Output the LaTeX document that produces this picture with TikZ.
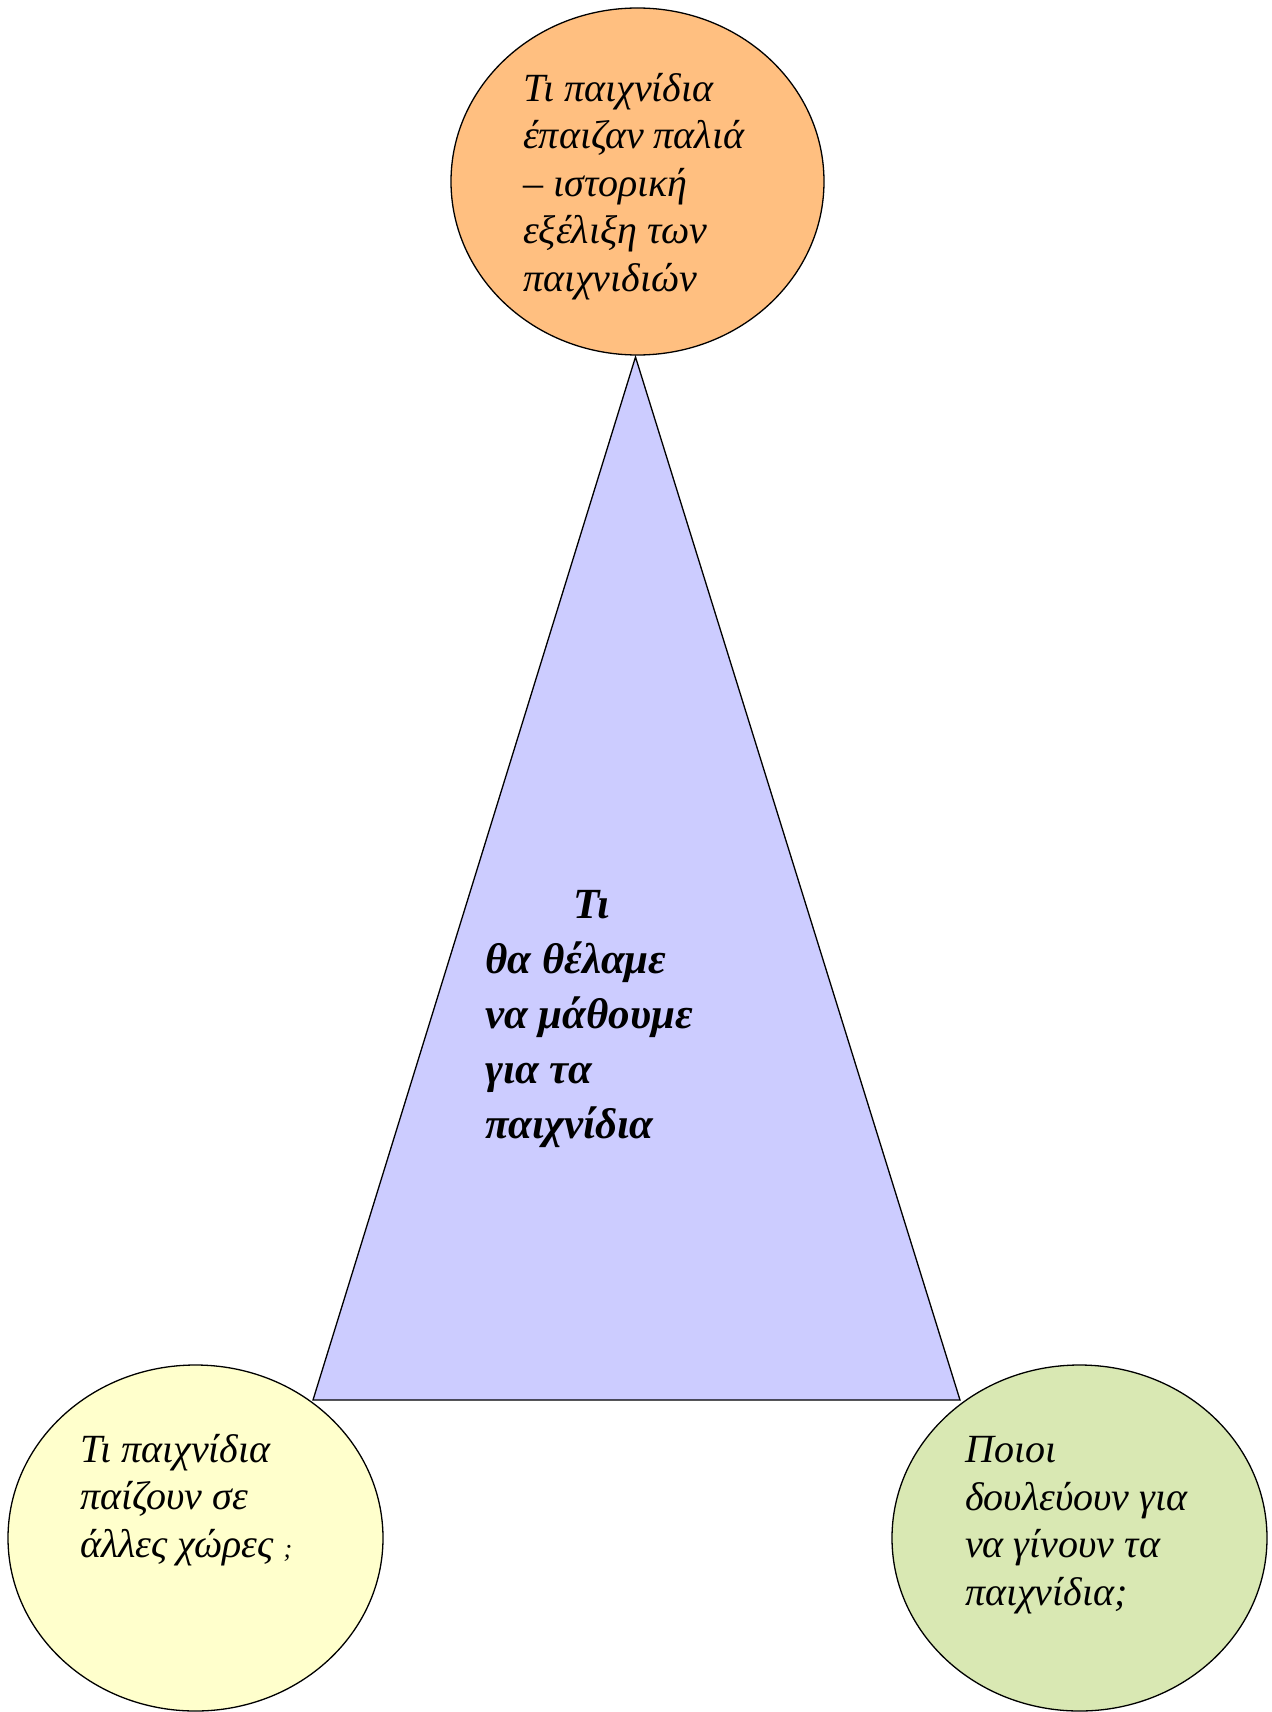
\documentclass[tikz,border=0pt]{standalone}
\usepackage{fontspec}
\setmainfont{Liberation Serif}
\usetikzlibrary{shapes.geometric}
\definecolor{topfill}{HTML}{FFBF80}
\definecolor{trifill}{HTML}{CCCCFF}
\definecolor{leftfill}{HTML}{FFFFCC}
\definecolor{rightfill}{HTML}{D9E8B3}
\begin{document}
\begin{tikzpicture}[x=1pt,y=-1pt,
  bubble/.style={ellipse, draw=black, line width=1.3pt, inner sep=0pt},
  label/.style={anchor=base west, align=left, inner sep=0pt, font=\fontsize{40}{47.5}\selectfont\itshape},
  biglabel/.style={anchor=base west, align=left, inner sep=0pt, font=\fontsize{43}{55}\selectfont\bfseries\itshape}]
\useasboundingbox (0,0) rectangle (1271,1712);
% triangle
\coordinate (apex) at (635.5,357);
\coordinate (bl) at (313,1400);
\coordinate (br) at (960,1400);
\draw[fill=trifill, line width=1.3pt, line join=miter] (apex) -- (bl) -- (br) -- cycle;
% ellipses
\node[bubble, fill=topfill, minimum width=373pt, minimum height=347pt] (top) at (637.5,181.5) {};
\node[bubble, fill=leftfill, minimum width=375pt, minimum height=346pt] (left) at (195.5,1538) {};
\node[bubble, fill=rightfill, minimum width=375pt, minimum height=346pt] (right) at (1079.5,1538) {};
% texts (anchored at the baseline of the last line)
\node[label] (toptext) at (523,291) {Τι παιχνίδια\\έπαιζαν παλιά\\– ιστορική\\εξέλιξη των\\παιχνιδιών};
\node[biglabel] (centertext) at (485,1138) {\hspace*{88pt}Τι\\θα θέλαμε\\να μάθουμε\\για τα\\παιχνίδια};
\node[label] (lefttext) at (80,1557) {Τι παιχνίδια\\παίζουν σε\\άλλες χώρες {\fontsize{26}{26}\selectfont;}};
\node[label] (righttext) at (965,1605) {Ποιοι\\δουλεύουν για\\να γίνουν τα\\παιχνίδια;};
\end{tikzpicture}
\end{document}
